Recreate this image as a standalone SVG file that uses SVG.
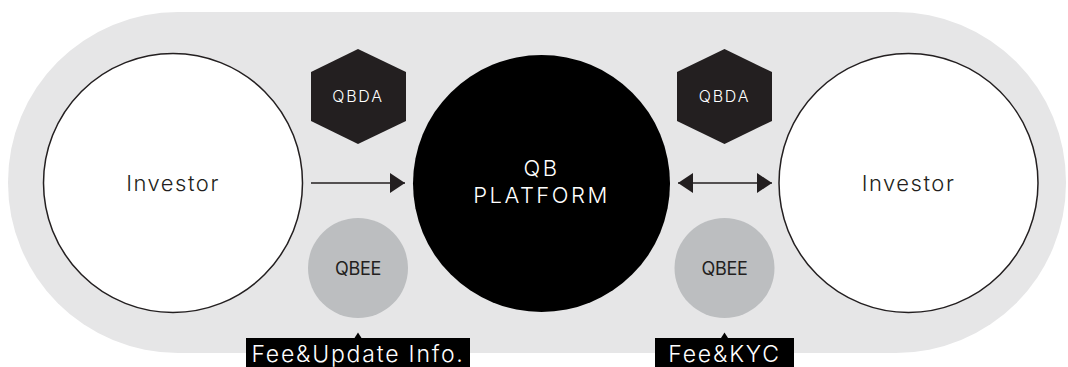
<svg xmlns="http://www.w3.org/2000/svg" width="1068" height="367" viewBox="0 0 1068 367">
<defs>
<style>
.bg{fill:#e6e6e7}
.inv{fill:#fff;stroke:#231f20;stroke-width:1.5}
.hex{fill:#231f20}
.qbee{fill:#bcbec0}
.t{font-family:Inter,"Liberation Sans",sans-serif;text-anchor:middle;dominant-baseline:central;font-weight:300}
.inv-t{font-size:22px;fill:#231f20;letter-spacing:1.5px}
.plat-t{font-size:22px;fill:#fff;letter-spacing:2.5px}
.hex-t{font-size:16px;fill:#fff;letter-spacing:1.8px}
.qbee-t{font-size:18px;fill:#231f20;font-weight:400;letter-spacing:-0.3px}
.lab{fill:#000}
.lab-t{font-size:23px;fill:#fff;letter-spacing:1.8px}
.conn{stroke:#231f20;stroke-width:1.5;fill:none}
</style>
<marker id="ah" viewBox="0 0 10 10" refX="10" refY="5" markerWidth="15" markerHeight="20" markerUnits="userSpaceOnUse" orient="auto-start-reverse" preserveAspectRatio="none">
<path d="M0,0 L10,5 L0,10 Z" fill="#231f20"/>
</marker>
</defs>
<rect class="bg" x="8" y="12" width="1058" height="341" rx="170" ry="170"/>
<g id="investor-left">
<circle class="inv" cx="173" cy="183" r="129.5"/>
<text class="t inv-t" x="173" y="183">Investor</text>
</g>
<g id="qb-platform">
<circle cx="541.5" cy="183.5" r="128.5" fill="#000"/>
<text class="t plat-t" x="541.5" y="168">QB</text>
<text class="t plat-t" x="541.5" y="195">PLATFORM</text>
</g>
<g id="investor-right">
<circle class="inv" cx="908.5" cy="183" r="129.5"/>
<text class="t inv-t" x="908.5" y="183">Investor</text>
</g>
<g id="qbda-left">
<polygon class="hex" points="358,49 406,72 406,121 358,144 311,121 311,72"/>
<text class="t hex-t" x="358" y="96">QBDA</text>
</g>
<g id="qbda-right">
<polygon class="hex" points="724.5,49 772,72 772,121 724.5,144 677,121 677,72"/>
<text class="t hex-t" x="724.5" y="96">QBDA</text>
</g>
<g id="qbee-left">
<circle class="qbee" cx="358" cy="268" r="50"/>
<text class="t qbee-t" x="358" y="268">QBEE</text>
</g>
<g id="qbee-right">
<circle class="qbee" cx="724.5" cy="268" r="50"/>
<text class="t qbee-t" x="724.5" y="268">QBEE</text>
</g>
<g id="label-left">
<rect class="lab" x="246" y="338" width="224" height="30"/>
<polygon class="lab" points="354.5,338 358,332.5 361.5,338"/>
<text class="t lab-t" x="358" y="354">Fee&amp;Update Info.</text>
</g>
<g id="label-right">
<rect class="lab" x="655" y="338" width="139" height="30"/>
<polygon class="lab" points="721,338 724.5,332.5 728,338"/>
<text class="t lab-t" x="724.5" y="354">Fee&amp;KYC</text>
</g>
<g id="connectors">
<line class="conn" x1="311" y1="183" x2="405" y2="183" marker-end="url(#ah)"/>
<line class="conn" x1="678" y1="183" x2="772" y2="183" marker-start="url(#ah)" marker-end="url(#ah)"/>
</g>
</svg>
